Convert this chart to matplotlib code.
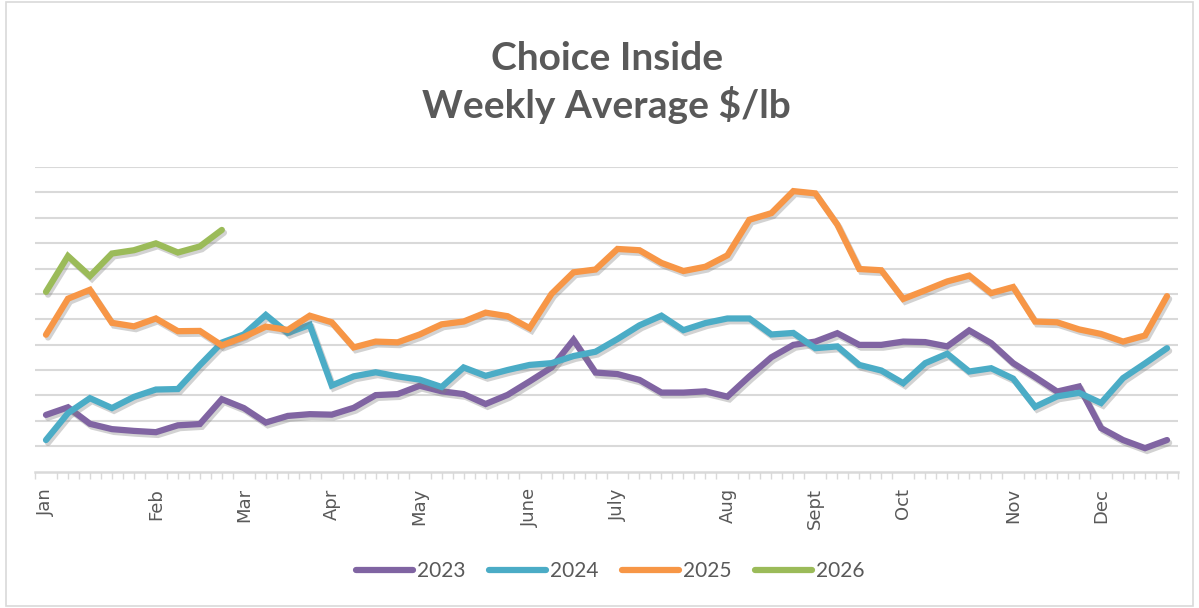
import numpy as np
import matplotlib
matplotlib.use("Agg")
import matplotlib.pyplot as plt
import matplotlib.patheffects as pe
from matplotlib.patches import Rectangle

# weekly values (y axis labels are hidden in the source chart, units = grid steps)
weeks = np.arange(52)
y2023 = [2.23, 2.53, 1.88, 1.67, 1.60, 1.55, 1.82, 1.87, 2.85, 2.50, 1.93, 2.19, 2.26,
         2.24, 2.51, 3.01, 3.05, 3.38, 3.16, 3.05, 2.66, 3.02, 3.55, 4.10, 5.19, 3.90,
         3.84, 3.61, 3.11, 3.11, 3.16, 2.95, 3.75, 4.50, 4.99, 5.12, 5.45, 4.99, 4.99,
         5.12, 5.10, 4.93, 5.56, 5.06, 4.27, 3.72, 3.15, 3.35, 1.71, 1.24, 0.92, 1.24]
y2024 = [1.24, 2.30, 2.89, 2.50, 2.94, 3.23, 3.25, 4.19, 5.08, 5.40, 6.17, 5.46, 5.78,
         3.39, 3.75, 3.91, 3.75, 3.62, 3.33, 4.10, 3.77, 4.00, 4.20, 4.27, 4.55, 4.72,
         5.22, 5.76, 6.14, 5.57, 5.85, 6.03, 6.03, 5.40, 5.46, 4.86, 4.93, 4.20, 3.98,
         3.48, 4.27, 4.64, 3.94, 4.07, 3.66, 2.55, 2.96, 3.10, 2.70, 3.68, 4.26, 4.86]
y2025 = [5.39, 6.81, 7.16, 5.86, 5.72, 6.03, 5.53, 5.54, 4.97, 5.30, 5.71, 5.58, 6.14,
         5.88, 4.89, 5.12, 5.09, 5.40, 5.80, 5.91, 6.26, 6.12, 5.65, 7.00, 7.85, 7.96,
         8.77, 8.72, 8.22, 7.90, 8.07, 8.52, 9.92, 10.18, 11.05, 10.96, 9.73, 7.98, 7.93,
         6.80, 7.14, 7.49, 7.72, 7.03, 7.27, 5.91, 5.88, 5.60, 5.42, 5.12, 5.36, 6.91]
y2026 = [7.08, 8.49, 7.70, 8.59, 8.72, 8.99, 8.63, 8.87, 9.52]

month_pos = [0, 5, 9, 13, 17, 22, 26, 31, 35, 39, 44, 48]
month_names = ["Jan", "Feb", "Mar", "Apr", "May", "June", "July", "Aug", "Sept",
               "Oct", "Nov", "Dec"]

series = [("2023", y2023, "#8064A2"), ("2024", y2024, "#4BACC6"),
          ("2025", y2025, "#F79646"), ("2026", y2026, "#9BBB59")]

fig = plt.figure(figsize=(11.99, 6.08), dpi=100)
ax = fig.add_axes([35 / 1199, 1 - 471.5 / 608, 1143 / 1199, 304.5 / 608])

shadow = [pe.SimpleLineShadow(offset=(1.5, -2), shadow_color="#7f7f7f", alpha=0.35),
          pe.Normal()]
for name, vals, col in series:
    ax.plot(weeks[:len(vals)], vals, color=col, lw=4.5, label=name,
            solid_joinstyle="miter", solid_capstyle="round", path_effects=shadow)

ax.set_xlim(-0.5, 51.5)
ax.set_ylim(0, 12)
ax.set_yticks(np.arange(1, 13))
ax.yaxis.grid(True, color="#D9D9D9", lw=1.5)
ax.set_axisbelow(True)
ax.tick_params(axis="y", length=0, labelleft=False)
for s in ["left", "right", "top"]:
    ax.spines[s].set_visible(False)
ax.spines["bottom"].set_color("#D9D9D9")
ax.spines["bottom"].set_linewidth(1.8)

ax.set_xticks(month_pos)
ax.set_xticklabels(month_names, rotation=90, fontsize=13, color="#595959",
                   family="DejaVu Sans")
ax.set_xticks(np.arange(-0.5, 52, 0.5), minor=True)
ax.tick_params(axis="x", which="major", length=0, pad=12)
ax.tick_params(axis="x", which="minor", length=5, width=1, color="#D9D9D9")

fig.text(0.506, 1 - 41 / 608, "Choice Inside\nWeekly Average $/lb", ha="center",
         va="top", fontsize=28, fontweight="bold", color="#595959", family="Lato",
         linespacing=1.3)

leg = fig.legend(loc="center", bbox_to_anchor=(0.509, 1 - 571 / 608), ncol=4,
                 frameon=False, handlelength=2.75, handletextpad=0.2,
                 columnspacing=1.1, prop={"family": "Lato", "size": 15})
for t in leg.get_texts():
    t.set_color("#595959")
for h in leg.get_lines():
    h.set_linewidth(4.5)
    h.set_path_effects([])

fig.patches.append(Rectangle((6 / 1199, 2 / 608), 1187 / 1199, 604 / 608,
                             transform=fig.transFigure, fill=False,
                             edgecolor="#D9D9D9", lw=1.2))

fig.savefig("out.png", dpi=100)
